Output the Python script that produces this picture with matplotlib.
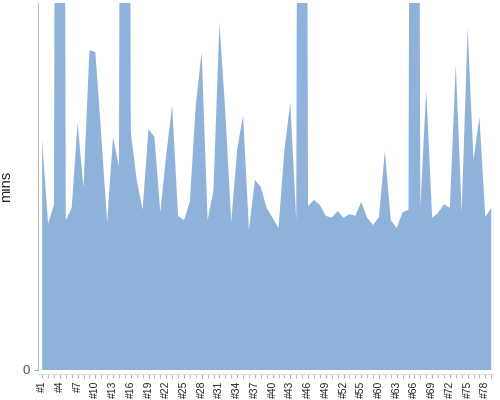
import numpy as np
import matplotlib.pyplot as plt

plt.rcParams['font.family'] = ['Liberation Sans', 'DejaVu Sans']

# category names (a couple of numbers are skipped in the source data)
labels = ["#%d" % i for i in range(1, 56)] + ["#57", "#59"] + ["#%d" % i for i in range(60, 80)]

# minutes per item (the four spikes run far off the top)
mins = [37.6, 23.9, 27.0, 400, 24.5, 26.5, 40.4, 29.8, 52.3, 52.0,
        38.4, 24.2, 38.1, 33.2, 400, 38.9, 31.1, 26.2, 39.4, 38.1,
        25.8, 35.2, 43.3, 25.2, 24.5, 27.5, 43.3, 52.0, 24.5, 29.4,
        56.7, 42.2, 24.2, 36.0, 41.7, 22.9, 31.1, 29.9, 26.5, 24.9,
        23.2, 36.0, 43.7, 24.5, 400, 26.8, 27.8, 27.0, 25.2, 24.9,
        26.0, 24.9, 25.5, 25.2, 27.5, 24.9, 23.7, 25.0, 35.8, 24.5,
        23.2, 25.8, 26.2, 400, 26.5, 45.8, 24.9, 25.7, 27.1, 26.5,
        50.0, 25.8, 55.9, 34.3, 41.4, 25.0, 26.5]

fig = plt.figure(figsize=(5, 4), dpi=100)
ax = fig.add_axes([0.076, 0.075, 0.91, 0.9175])

x = np.arange(len(mins))
ax.fill_between(x, 0, mins, color="#8fb2da", linewidth=0)

ax.set_xlim(-0.7, len(mins) - 0.7)
ax.set_ylim(0, 60)

# x axis: tick at every category, label on every third
ax.set_xticks(x, minor=True)
ax.set_xticks(x[::3], labels=labels[::3])
ax.tick_params(axis="x", which="both", length=3, color="#aaaaaa", pad=1.5,
               labelrotation=90, labelsize=7.5, labelcolor="#222222")

ax.set_yticks([0], labels=["0"])
ax.tick_params(axis="y", length=3, color="#aaaaaa", pad=3,
               labelsize=9.5, labelcolor="#555555")
ax.set_ylabel("mins", fontsize=10.5, color="#222222")
ax.yaxis.set_label_coords(-0.055, 0.5)

ax.spines["top"].set_visible(False)
ax.spines["right"].set_visible(False)
ax.spines["left"].set_color("#bbbbbb")
ax.spines["bottom"].set_color("#dddddd")
ax.spines["bottom"].set_position(("outward", 3))

fig.savefig("out.png", dpi=100)
